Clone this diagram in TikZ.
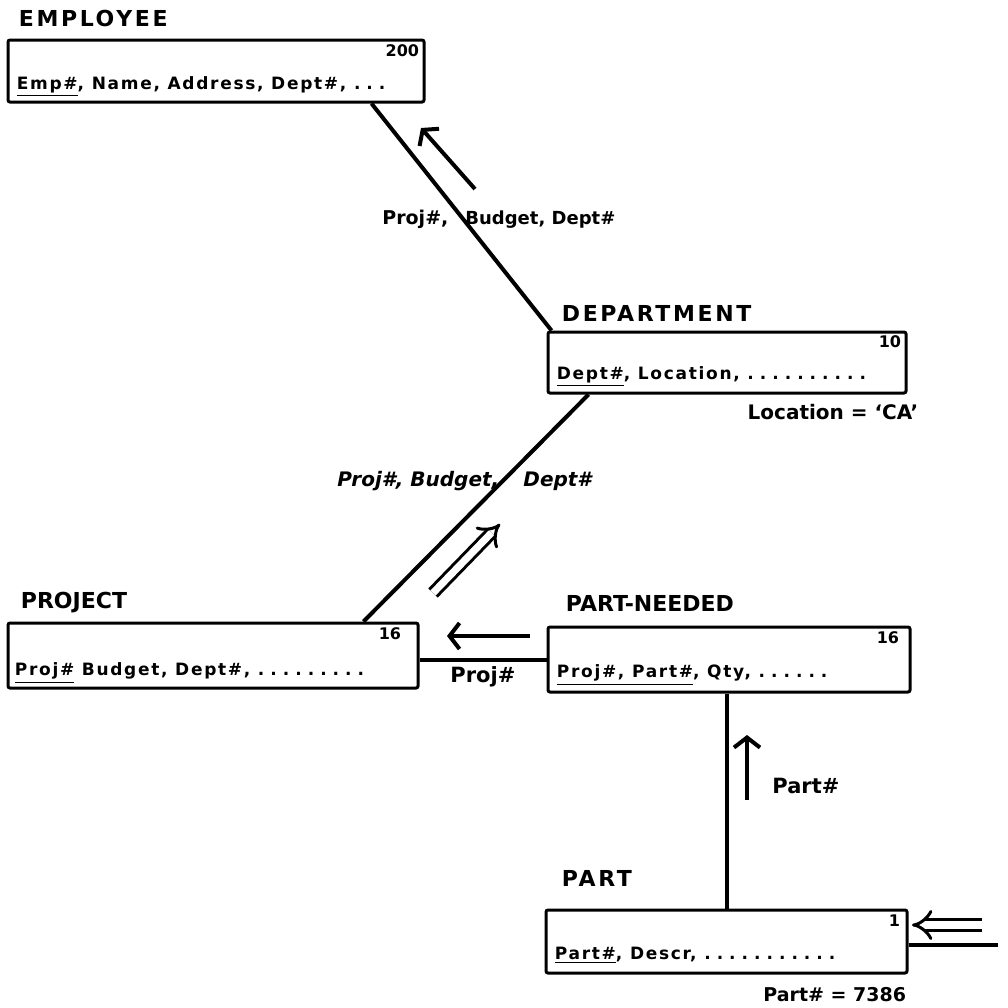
\documentclass[tikz,border=0pt]{standalone}
\usepackage{fontspec}
\setmainfont{DejaVu Sans}
\newfontfamily\ttlfont{DejaVu Sans}[LetterSpace=12]
\newfontfamily\attrfont{DejaVu Sans}[LetterSpace=10]
\usetikzlibrary{arrows.meta,calc}
% spaced leader dot used in the attribute lists
\newcommand\ldot{.\hspace{3pt}}
\begin{document}
\begin{tikzpicture}[x=0.5pt,y=-0.5pt,
  box/.style={draw, line width=1.5pt, rounded corners=1pt, inner sep=0pt},
  ttl/.style={font=\ttlfont\bfseries\fontsize{11}{13}\selectfont, anchor=base west, inner sep=0pt},
  ttlnarrow/.style={font=\bfseries\fontsize{11}{13}\selectfont, anchor=base west, inner sep=0pt},
  body/.style={font=\attrfont\bfseries\fontsize{8.5}{10}\selectfont, anchor=base west, inner sep=0pt},
  cnt/.style={font=\bfseries\fontsize{8}{9}\selectfont, anchor=north east, inner sep=0pt},
  lbl/.style={font=\bfseries\fontsize{9}{11}\selectfont, inner sep=0pt},
  ilbl/.style={font=\bfseries\itshape\fontsize{10}{12}\selectfont, inner sep=0pt},
  link/.style={line width=2pt},
  flow/.style={line width=2pt, -{Straight Barb[length=5pt,width=13pt]}},
  dflow/.style={double, line width=1.5pt, double distance=3.6pt, -{Implies[scale=1.2]}}
]
\useasboundingbox (0,0) rectangle (1008,1008);

% relation boxes
\node[box, minimum width=208pt, minimum height=31pt]   (emp)  at (216,71)    {};
\node[box, minimum width=179pt, minimum height=30.5pt] (dept) at (727,362.5) {};
\node[box, minimum width=205pt, minimum height=32.5pt] (proj) at (213,655.5) {};
\node[box, minimum width=181pt, minimum height=32.5pt] (pn)   at (729,659.5) {};
\node[box, minimum width=180.5pt, minimum height=31.5pt] (part) at (726.5,941.5) {};

% titles
\node[ttl]       (empT)  at ($(emp.north west)+(12,-12)$)  {EMPLOYEE};
\node[ttl]       (deptT) at ($(dept.north west)+(15,-9)$)  {DEPARTMENT};
\node[ttlnarrow] (projT) at ($(proj.north west)+(14,-13)$) {PROJECT};
\node[ttlnarrow] (pnT)   at ($(pn.north west)+(19,-14)$)   {PART-NEEDED};
\node[ttl]       (partT) at ($(part.north west)+(17,-22)$) {PART};

% cardinalities
\node[cnt] (empN)  at ($(emp.north east)+(-6,6)$)  {200};
\node[cnt] (deptN) at ($(dept.north east)+(-6,5)$) {10};
\node[cnt] (projN) at ($(proj.north east)+(-18,6)$) {16};
\node[cnt] (pnN)   at ($(pn.north east)+(-12,6)$)   {16};
\node[cnt] (partN) at ($(part.north east)+(-8,6)$) {1};

% attribute lists
\node[body] (empB)  at ($(emp.south west)+(10,-14)$)  {\underline{Emp\#}, Name, Address, Dept\#, \ldot\ldot.};
\node[body] (deptB) at ($(dept.south west)+(10,-15)$) {\underline{Dept\#}, Location, \ldot\ldot\ldot\ldot\ldot\ldot\ldot\ldot\ldot.};
\node[body] (projB) at ($(proj.south west)+(8,-14)$)  {\underline{Proj\#} Budget, Dept\#, \ldot\ldot\ldot\ldot\ldot\ldot\ldot\ldot.};
\node[body] (pnB)   at ($(pn.south west)+(10,-16)$)   {\underline{Proj\#, Part\#}, Qty, \ldot\ldot\ldot\ldot\ldot.};
\node[body] (partB) at ($(part.south west)+(10,-15)$) {\underline{Part\#}, Descr, \ldot\ldot\ldot\ldot\ldot\ldot\ldot\ldot\ldot\ldot.};

% selection conditions
\node[lbl, font=\bfseries\fontsize{10}{12}\selectfont, anchor=base east] (deptC) at ($(dept.south east)+(11,25)$) {Location = ‘CA’};
\node[lbl, font=\bfseries\fontsize{9.5}{11}\selectfont, anchor=base east] (partC) at ($(part.south east)+(-2,27)$) {Part\# = 7386};

% joins
\draw[link] ($(emp.south west)+(365,0)$) -- ($(dept.north west)+(5,0)$);
\draw[link] ($(dept.south west)+(42,0)$) -- ($(proj.north west)+(357,0)$);
\draw[link] (pn.west) -- (pn.west -| proj.east);
\draw[link] (part.north) -- (part.north |- pn.south);
\coordinate (input) at (998,945);
\draw[link] (part.east |- input) -- (input);

% flow arrows
\coordinate (a1s) at (475,189); \coordinate (a1e) at (421,128);
\draw[flow] (a1s) -- (a1e);
\coordinate (a2s) at (433,593); \coordinate (a2e) at (500,524);
\draw[dflow] (a2s) -- (a2e);
\coordinate (a3s) at (530,636); \coordinate (a3e) at (447,636);
\draw[flow] (a3s) -- (a3e);
\coordinate (a4s) at (747,800); \coordinate (a4e) at (747,735);
\draw[flow] (a4s) -- (a4e);
\coordinate (a5s) at (982,925); \coordinate (a5e) at (912,925);
\draw[dflow] (a5s) -- (a5e);

% attributes passed along the joins
\node[lbl, font=\bfseries\fontsize{9.5}{11}\selectfont, anchor=base west] (l1a) at (382,224) {Proj\#,};
\node[lbl, anchor=base west] (l1b) at (465,224) {Budget, Dept\#};
\node[ilbl, anchor=base west] (l2a) at (337,486) {Proj\#, Budget,};
\node[ilbl, anchor=base west] (l2b) at (523,486) {Dept\#};
\node[lbl, font=\bfseries\fontsize{10.5}{12}\selectfont, anchor=base west] (l3) at (450,682) {Proj\#};
\node[lbl, font=\bfseries\fontsize{10.5}{12}\selectfont, anchor=base west] (l4) at (772,793) {Part\#};
\end{tikzpicture}
\end{document}
